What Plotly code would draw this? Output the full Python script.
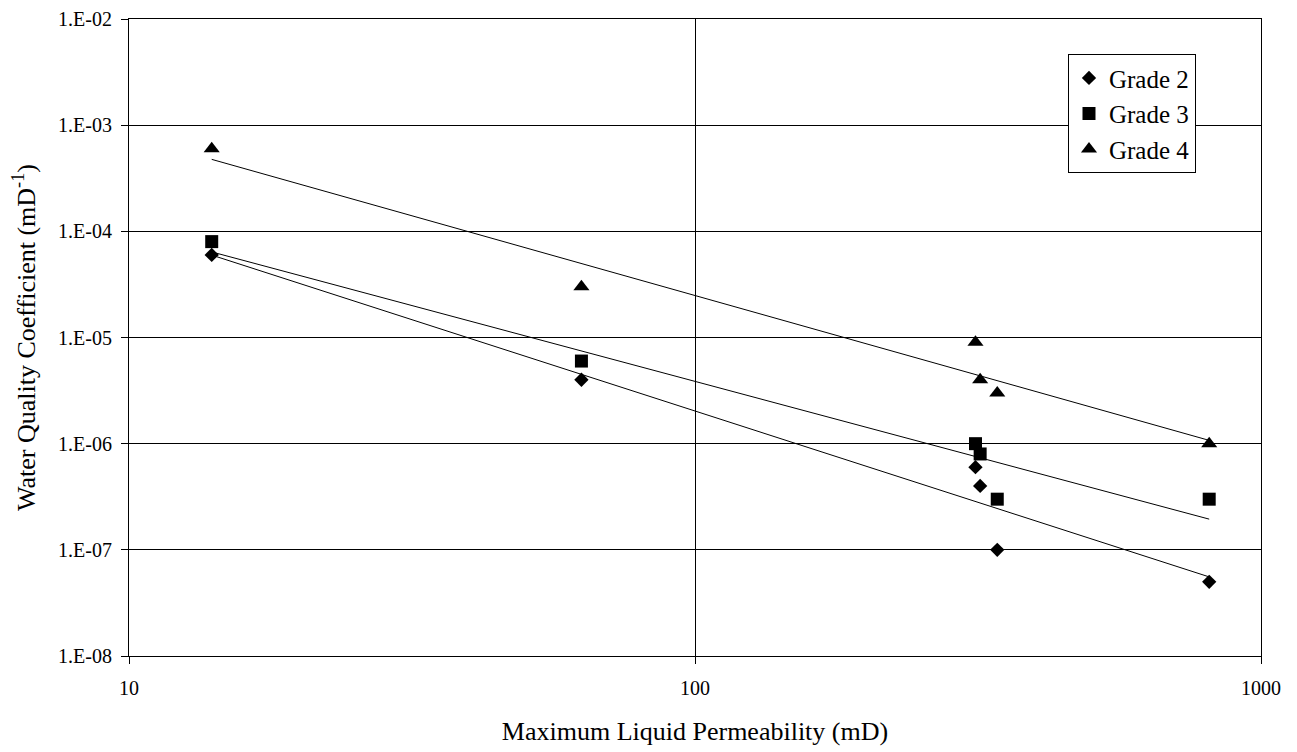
import numpy as np
import plotly.graph_objects as go

# Data
permeability = [14, 63, 313, 319, 342, 810]
grade2 = [6e-5, 4e-6, 6e-7, 4e-7, 1e-7, 5e-8]
grade3 = [8e-5, 6e-6, 1e-6, 8e-7, 3e-7, 3e-7]
grade4 = [6e-4, 3e-5, 9e-6, 4e-6, 3e-6, 1e-6]
series_names = ["Grade 2", "Grade 3", "Grade 4"]
y_exponents = [-2, -3, -4, -5, -6, -7, -8]
x_ticks = [10, 100, 1000]

FONT = "Liberation Serif, Times New Roman, serif"
symbols = ["diamond", "square", "triangle-up"]
sizes = [11, 13, 14]

fig = go.Figure()
for name, vals, sym, sz in zip(series_names, [grade2, grade3, grade4], symbols, sizes):
    fig.add_trace(go.Scatter(
        x=permeability, y=vals, mode="markers", name=name,
        marker=dict(symbol=sym, size=sz, color="black", line=dict(width=0)),
    ))

# Power-law trend lines (least squares in log-log space)
for vals in [grade2, grade3, grade4]:
    lx = np.log10(permeability)
    ly = np.log10(vals)
    slope, intercept = np.polyfit(lx, ly, 1)
    xs = np.logspace(lx.min(), lx.max(), 50)
    ys = 10 ** (intercept + slope * np.log10(xs))
    fig.add_trace(go.Scatter(x=xs, y=ys, mode="lines", showlegend=False,
                             line=dict(color="black", width=1), hoverinfo="skip"))

# page body has an 8px margin, so the figure is reduced accordingly
fig.update_layout(
    width=1289, height=744,
    margin=dict(l=121, r=36, t=11, b=96, autoexpand=False),
    paper_bgcolor="white", plot_bgcolor="white",
    font=dict(family=FONT, size=20, color="black"),
    showlegend=True,
    legend=dict(x=0.8295, y=0.758, xanchor="left", yanchor="bottom",
                bordercolor="black", borderwidth=1, bgcolor="white",
                font=dict(family=FONT, size=25), itemsizing="trace"),
)

fig.update_xaxes(
    type="log", range=[1, 3], automargin=False,
    tickvals=x_ticks, ticktext=[str(v) for v in x_ticks],
    showgrid=True, gridcolor="black", gridwidth=1,
    showline=True, linecolor="black", linewidth=1, mirror=True,
    ticks="outside", ticklen=7, tickcolor="black",
    tickfont=dict(family=FONT, size=20),
    ticklabelstandoff=7,
    title=dict(text="Maximum Liquid Permeability (mD)", font=dict(family=FONT, size=26), standoff=23),
    zeroline=False,
)
fig.update_yaxes(
    type="log", range=[-8, -2], automargin=False,
    tickvals=[10.0 ** e for e in y_exponents],
    ticktext=["1.E-%02d" % (-e) for e in y_exponents],
    showgrid=True, gridcolor="black", gridwidth=1,
    showline=True, linecolor="black", linewidth=1, mirror=True,
    ticks="outside", ticklen=7, tickcolor="black",
    tickfont=dict(family=FONT, size=20),
    ticklabelstandoff=5,
    title=dict(text="Water Quality Coefficient (mD<sup>-1</sup>)", font=dict(family=FONT, size=26), standoff=17),
    zeroline=False,
)

fig.write_html("out.html")
